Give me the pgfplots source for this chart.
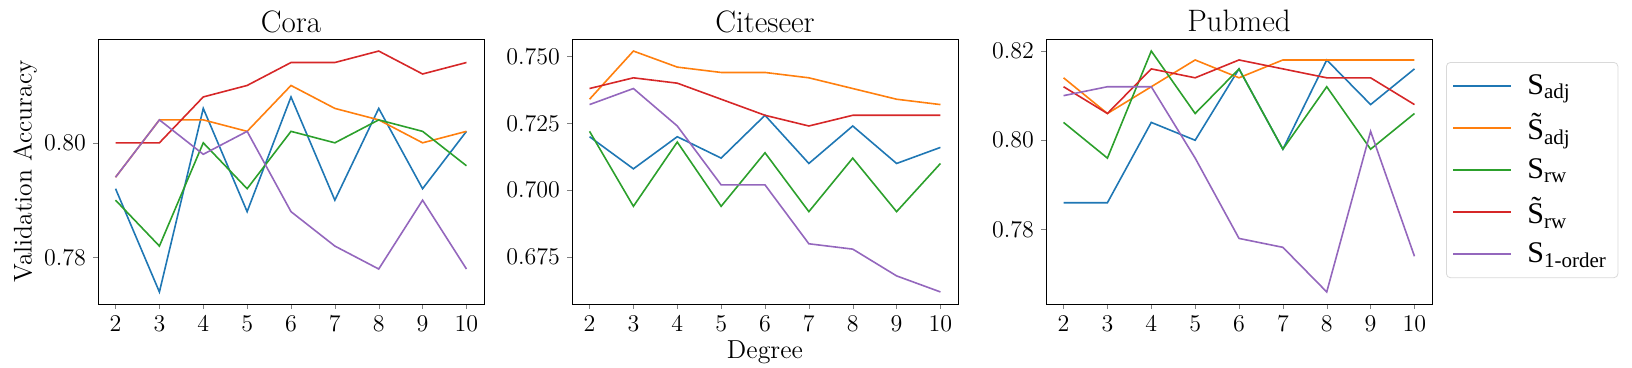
\documentclass[border=0pt]{standalone}
\usepackage{fontspec}
\usepackage{pgfplots}
\pgfplotsset{compat=1.18}
\newfontfamily\legfont{Liberation Serif}
\definecolor{tblue}{HTML}{1F77B4}
\definecolor{torange}{HTML}{FF7F0E}
\definecolor{tgreen}{HTML}{2CA02C}
\definecolor{tred}{HTML}{D62728}
\definecolor{tpurple}{HTML}{9467BD}
\newcommand{\legtxt}[1]{{\legfont\fontsize{15}{17}\selectfont #1}}
\pgfplotsset{
  panel/.style={
    scale only axis, width=193pt, height=132.5pt,
    xmin=1.6, xmax=10.4, xtick={2,...,10},
    tick align=outside, xtick pos=bottom, ytick pos=left,
    major tick length=2.5pt,
    tick label style={font=\fontsize{13}{15}\selectfont},
    title style={at={(0.5,1)}, anchor=base, yshift=-2.5pt, inner sep=0pt, font=\fontsize{15.5}{18}\selectfont},
    scaled y ticks=false,
    every axis plot/.append style={line width=0.8pt, mark=none},
  }
}
\begin{document}
\begin{tikzpicture}
\path (0,0) rectangle (816pt,-184pt);
% Cora
\begin{axis}[panel, at={(49pt,-152pt)}, anchor=south west,
  title={Cora}, ymin=0.7719, ymax=0.8181, ytick={0.78,0.80},
  yticklabel style={/pgf/number format/.cd, fixed, fixed zerofill, precision=2},
  ylabel={Validation Accuracy},
  ylabel style={at={(axis description cs:-0.189,0.5)}, anchor=center, inner sep=0pt, font=\fontsize{12.8}{15}\selectfont}]
\addplot[tblue] coordinates {(2,0.792)(3,0.774)(4,0.806)(5,0.788)(6,0.808)(7,0.790)(8,0.806)(9,0.792)(10,0.802)};
\addplot[torange] coordinates {(2,0.794)(3,0.804)(4,0.804)(5,0.802)(6,0.810)(7,0.806)(8,0.804)(9,0.800)(10,0.802)};
\addplot[tgreen] coordinates {(2,0.790)(3,0.782)(4,0.800)(5,0.792)(6,0.802)(7,0.800)(8,0.804)(9,0.802)(10,0.796)};
\addplot[tred] coordinates {(2,0.800)(3,0.800)(4,0.808)(5,0.810)(6,0.814)(7,0.814)(8,0.816)(9,0.812)(10,0.814)};
\addplot[tpurple] coordinates {(2,0.794)(3,0.804)(4,0.798)(5,0.802)(6,0.788)(7,0.782)(8,0.778)(9,0.790)(10,0.778)};
\end{axis}
% Citeseer
\begin{axis}[panel, at={(286pt,-152pt)}, anchor=south west,
  title={Citeseer}, ymin=0.6575, ymax=0.7565, ytick={0.675,0.700,0.725,0.750},
  yticklabel style={/pgf/number format/.cd, fixed, fixed zerofill, precision=3},
  xlabel={Degree},
  xlabel style={at={(axis description cs:0.5,-0.182)}, anchor=center, inner sep=0pt, font=\fontsize{13}{15}\selectfont}]
\addplot[tblue] coordinates {(2,0.720)(3,0.708)(4,0.720)(5,0.712)(6,0.728)(7,0.710)(8,0.724)(9,0.710)(10,0.716)};
\addplot[torange] coordinates {(2,0.734)(3,0.752)(4,0.746)(5,0.744)(6,0.744)(7,0.742)(8,0.738)(9,0.734)(10,0.732)};
\addplot[tgreen] coordinates {(2,0.722)(3,0.694)(4,0.718)(5,0.694)(6,0.714)(7,0.692)(8,0.712)(9,0.692)(10,0.710)};
\addplot[tred] coordinates {(2,0.738)(3,0.742)(4,0.740)(5,0.734)(6,0.728)(7,0.724)(8,0.728)(9,0.728)(10,0.728)};
\addplot[tpurple] coordinates {(2,0.732)(3,0.738)(4,0.724)(5,0.702)(6,0.702)(7,0.680)(8,0.678)(9,0.668)(10,0.662)};
\end{axis}
% Pubmed
\begin{axis}[panel, at={(523pt,-152pt)}, anchor=south west,
  title={Pubmed}, ymin=0.7633, ymax=0.8227, ytick={0.78,0.80,0.82},
  yticklabel style={/pgf/number format/.cd, fixed, fixed zerofill, precision=2},
  legend style={at={(1.0363,0.913)}, anchor=north west, draw=black!15, rounded corners=2pt,
    inner xsep=3pt, inner ysep=3.5pt,
    row sep=3pt, nodes={inner sep=2.5pt},
    /tikz/every odd column/.append style={column sep=5pt}},
  legend cell align=left,
  legend image code/.code={\draw[line width=1pt] (0pt,0pt) -- (29pt,0pt);}]
\addplot[tblue] coordinates {(2,0.786)(3,0.786)(4,0.804)(5,0.800)(6,0.816)(7,0.798)(8,0.818)(9,0.808)(10,0.816)};
\addlegendentry{\legtxt{S\textsubscript{adj}}}
\addplot[torange] coordinates {(2,0.814)(3,0.806)(4,0.812)(5,0.818)(6,0.814)(7,0.818)(8,0.818)(9,0.818)(10,0.818)};
\addlegendentry{\legtxt{\~S\textsubscript{adj}}}
\addplot[tgreen] coordinates {(2,0.804)(3,0.796)(4,0.820)(5,0.806)(6,0.816)(7,0.798)(8,0.812)(9,0.798)(10,0.806)};
\addlegendentry{\legtxt{S\textsubscript{rw}}}
\addplot[tred] coordinates {(2,0.812)(3,0.806)(4,0.816)(5,0.814)(6,0.818)(7,0.816)(8,0.814)(9,0.814)(10,0.808)};
\addlegendentry{\legtxt{\~S\textsubscript{rw}}}
\addplot[tpurple] coordinates {(2,0.810)(3,0.812)(4,0.812)(5,0.796)(6,0.778)(7,0.776)(8,0.766)(9,0.802)(10,0.774)};
\addlegendentry{\legtxt{S\textsubscript{1-order}}}
\end{axis}
\end{tikzpicture}
\end{document}
